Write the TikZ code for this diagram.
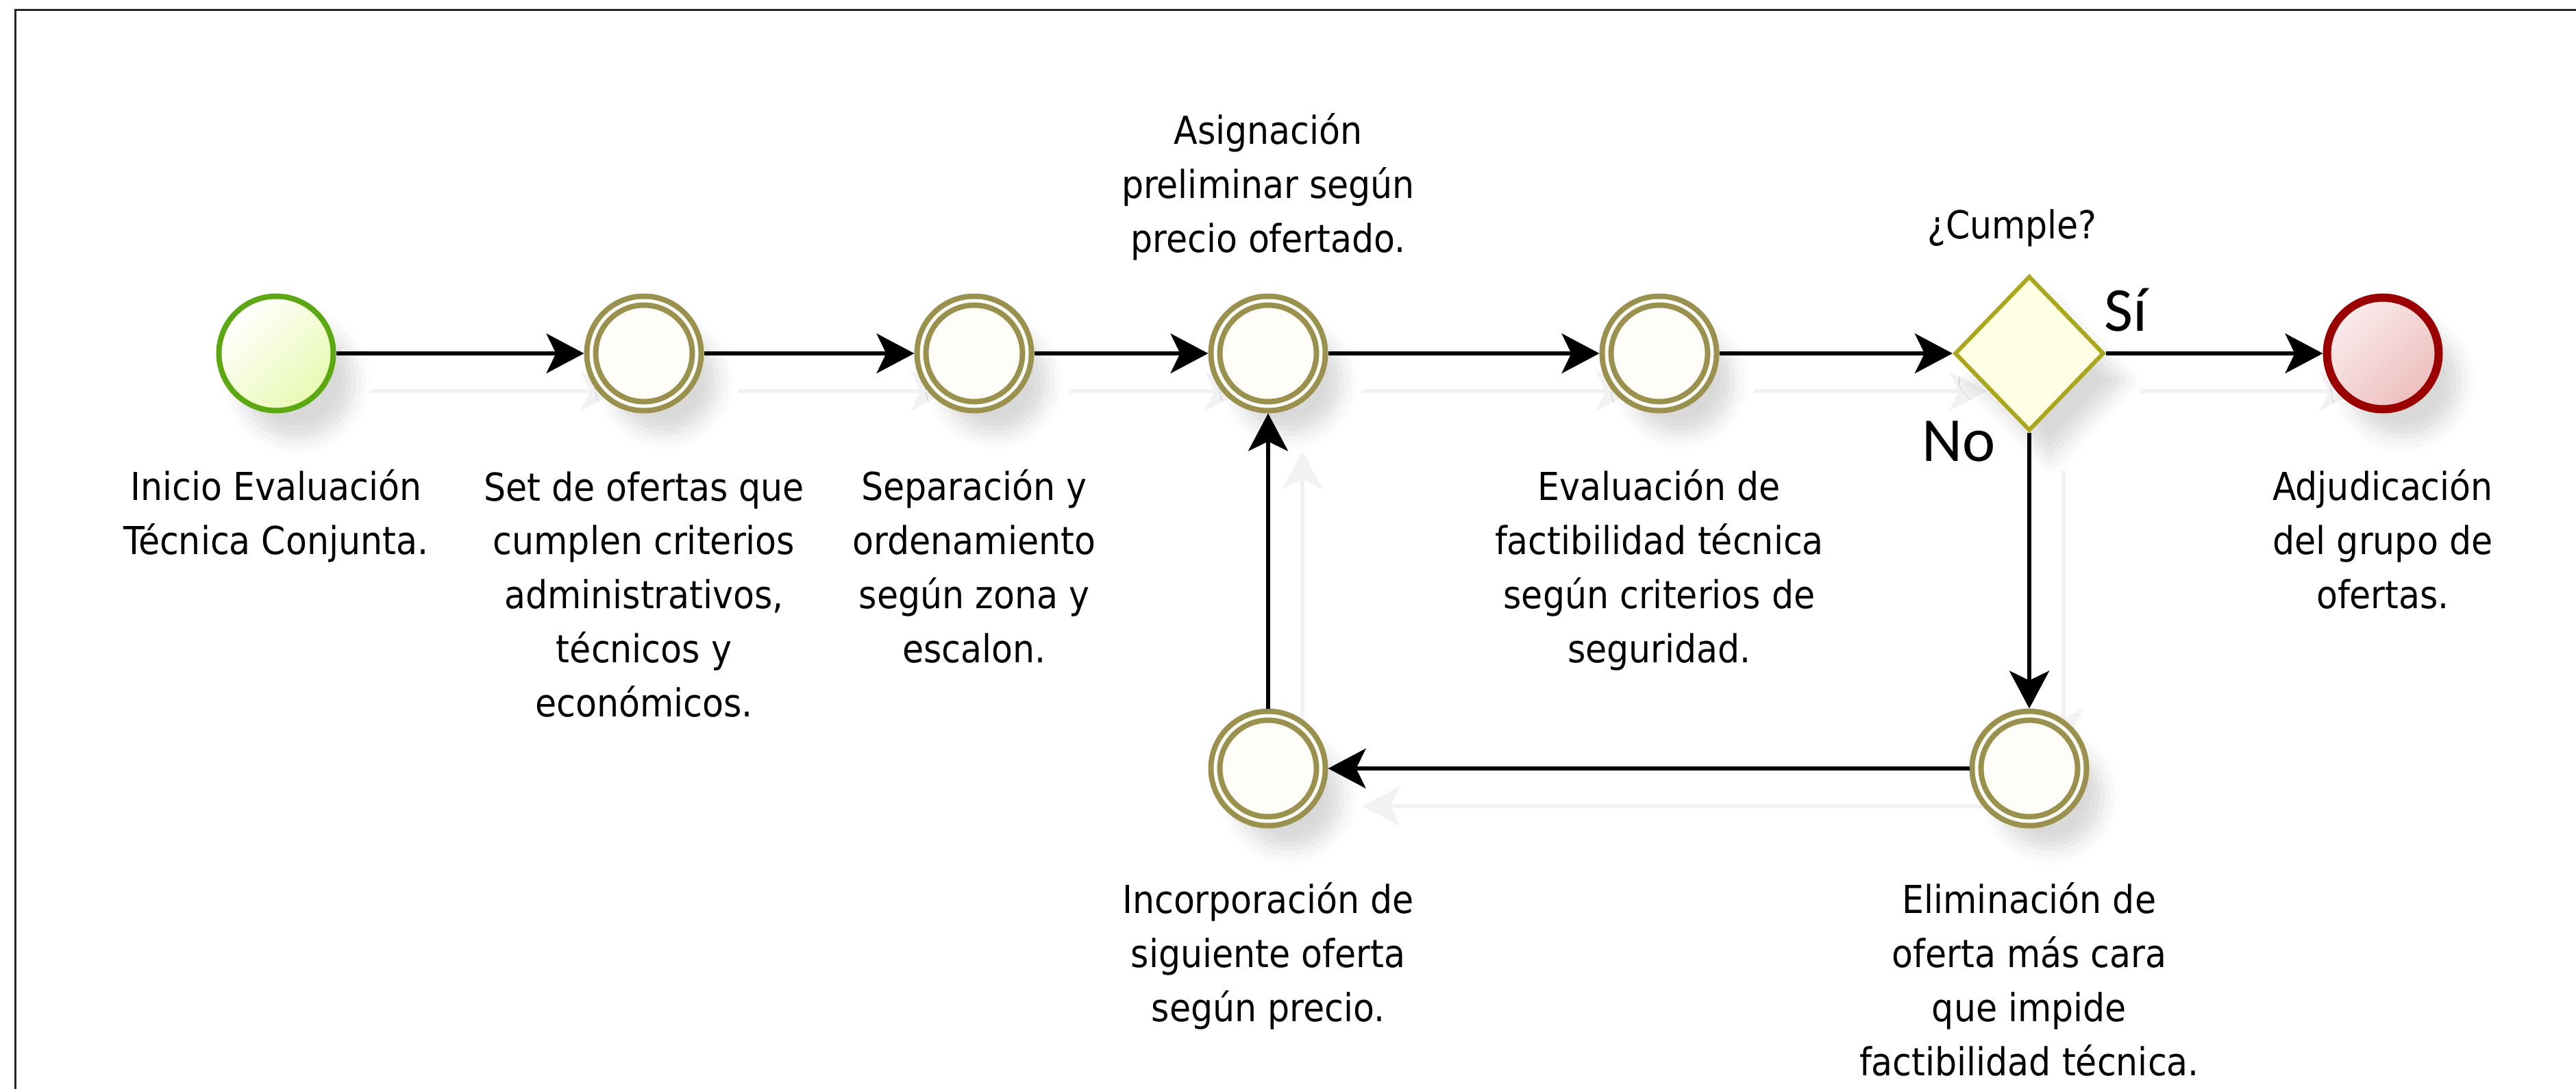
\documentclass[tikz,border=0pt]{standalone}
\usepackage{fontspec}
\usepackage{tikz}
\usetikzlibrary{shapes.geometric, positioning, arrows.meta, shadows.blur, backgrounds}

\newfontfamily\lblfont{DejaVu Sans Condensed}
\newfontfamily\choicefont{Carlito}

\definecolor{evring}{RGB}{153,145,77}
\definecolor{evfill}{RGB}{255,253,247}
\definecolor{startline}{RGB}{92,168,18}
\definecolor{startfill}{RGB}{232,250,178}
\definecolor{endline}{RGB}{154,0,0}
\definecolor{endfill}{RGB}{238,190,190}
\definecolor{gwline}{RGB}{170,166,30}
\definecolor{gwfill}{RGB}{255,255,228}

\tikzset{
  evshadow/.style={blur shadow={shadow xshift=0.3cm, shadow yshift=-0.4cm,
      shadow blur radius=0.25cm, shadow opacity=15}},
  startev/.style={circle, minimum size=1.67cm, inner sep=0pt,
    line width=0.08cm, draw=startline, top color=white,
    bottom color=startfill, shading angle=45, evshadow},
  midev/.style={circle, minimum size=1.54cm, inner sep=0pt,
    outer sep=0.105cm, line width=0.08cm, draw=evring, double=evfill,
    double distance=0.05cm, fill=evfill, evshadow},
  endev/.style={circle, minimum size=1.63cm, inner sep=0pt,
    line width=0.12cm, draw=endline, top color=endfill!30,
    bottom color=endfill, shading angle=45, evshadow},
  gateway/.style={diamond, minimum width=2.18cm, minimum height=2.26cm,
    inner sep=0pt, line width=0.06cm, draw=gwline, fill=gwfill, evshadow},
  flow/.style={line width=0.055cm,
    -{Stealth[length=0.55cm, width=0.58cm, inset=0.14cm]}},
  flowghost/.style={flow, draw=black!5, color=black!5},
  lbl/.style={font=\lblfont\fontsize{16}{22.4}\selectfont, align=center,
    inner sep=0pt, anchor=base},
  choice/.style={font=\choicefont\fontsize{26}{30}\selectfont,
    inner sep=0pt, anchor=base}
}

\begin{document}
\begin{tikzpicture}
    \useasboundingbox (0,0) rectangle (37.6,-15.9);%
    % frame
    \draw [line width=0.03cm, black!85] (0.23,-15.9) -- (0.23,-0.14) --
    (37.6,-0.14);%

    % events and gateway
    \node [startev] (start) at (4.03,-5.16) {};%
    \node [midev] (set) at (9.40,-5.16) {};%
    \node [midev] (sep) at (14.22,-5.16) {};%
    \node [midev] (asig) at (18.51,-5.16) {};%
    \node [midev] (eval) at (24.22,-5.16) {};%
    \node [gateway] (gate) at (29.62,-5.16) {};%
    \node [endev] (end) at (34.78,-5.16) {};%
    \node [midev] (inc) at (18.51,-11.22) {};%
    \node [midev] (elim) at (29.62,-11.22) {};%

    % labels (base = last line)
    \node [lbl, below=2.93cm of start.center, anchor=base] (lblstart)
    {Inicio Evaluación\\Técnica Conjunta.};%
    \node [lbl, below=5.30cm of set.center, anchor=base] (lblset)
    {Set de ofertas que\\cumplen criterios\\administrativos,\\técnicos y\\económicos.};%
    \node [lbl, below=4.51cm of sep.center, anchor=base] (lblsep)
    {Separación y\\ordenamiento\\según zona y\\escalon.};%
    \node [lbl, above=1.48cm of asig.center, anchor=base] (lblasig)
    {Asignación\\preliminar según\\precio ofertado.};%
    \node [lbl, below=4.51cm of eval.center, anchor=base] (lbleval)
    {Evaluación de\\factibilidad técnica\\según criterios de\\seguridad.};%
    \node [lbl, above=1.68cm of gate.center, anchor=base, xshift=-0.25cm]
    (lblgate) {¿Cumple?};%
    \node [lbl, below=3.72cm of end.center, anchor=base] (lblend)
    {Adjudicación\\del grupo de\\ofertas.};%
    \node [lbl, below=3.69cm of inc.center, anchor=base] (lblinc)
    {Incorporación de\\siguiente oferta\\según precio.};%
    \node [lbl, below=4.48cm of elim.center, anchor=base] (lblelim)
    {Eliminación de\\oferta más cara\\que impide\\factibilidad técnica.};%

    % arrows
    \draw [flow] (start) -- (set);%
    \draw [flow] (set) -- (sep);%
    \draw [flow] (sep) -- (asig);%
    \draw [flow] (asig) -- (eval);%
    \draw [flow] (eval) -- (gate);%
    \draw [flow] (gate) -- node [choice, at start, xshift=0.29cm,
    yshift=0.33cm] {Sí} (end);%
    \draw [flow] (gate) -- node [choice, at start, xshift=-1.03cm,
    yshift=-0.41cm] {No} (elim);%
    \draw [flow] (elim) -- (inc);%
    \draw [flow] (inc) -- (asig);%

    % faint arrow shadows
    \begin{pgfonlayer}{background}
      \foreach \a/\b in {start.east/set.west, set.east/sep.west,
        sep.east/asig.west, asig.east/eval.west, eval.east/gate.west,
        gate.east/end.west, gate.south/elim.north, elim.west/inc.east,
        inc.north/asig.south}
      \draw [flowghost] ([shift={(0.5,-0.55)}]\a) --
      ([shift={(0.5,-0.55)}]\b);%
    \end{pgfonlayer}
  \end{tikzpicture}
\end{document}
